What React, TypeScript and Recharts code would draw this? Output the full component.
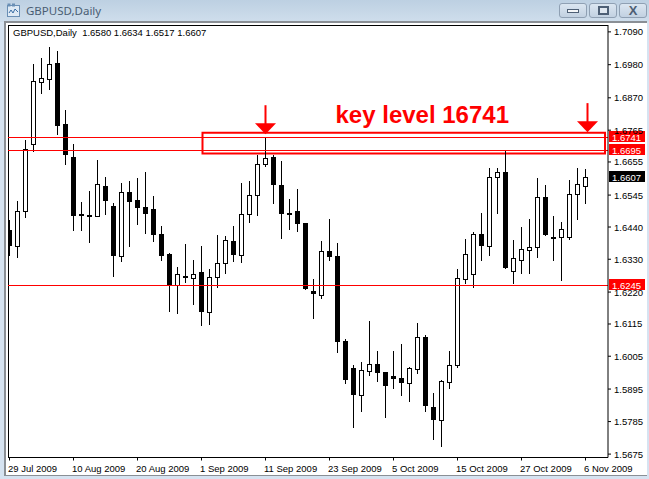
import React from "react";
import { ComposedChart, Bar, XAxis, YAxis, ReferenceLine, ReferenceArea, ReferenceDot } from "recharts";

const dates = [
  "29 Jul 2009","30 Jul 2009","31 Jul 2009","3 Aug 2009","4 Aug 2009","5 Aug 2009","6 Aug 2009","7 Aug 2009",
  "10 Aug 2009","11 Aug 2009","12 Aug 2009","13 Aug 2009","14 Aug 2009","17 Aug 2009","18 Aug 2009","19 Aug 2009",
  "20 Aug 2009","21 Aug 2009","24 Aug 2009","25 Aug 2009","26 Aug 2009","27 Aug 2009","28 Aug 2009","31 Aug 2009",
  "1 Sep 2009","2 Sep 2009","3 Sep 2009","4 Sep 2009","7 Sep 2009","8 Sep 2009","9 Sep 2009","10 Sep 2009",
  "11 Sep 2009","14 Sep 2009","15 Sep 2009","16 Sep 2009","17 Sep 2009","18 Sep 2009","21 Sep 2009","22 Sep 2009",
  "23 Sep 2009","24 Sep 2009","25 Sep 2009","28 Sep 2009","29 Sep 2009","30 Sep 2009","1 Oct 2009","2 Oct 2009",
  "5 Oct 2009","6 Oct 2009","7 Oct 2009","8 Oct 2009","9 Oct 2009","12 Oct 2009","13 Oct 2009","14 Oct 2009",
  "15 Oct 2009","16 Oct 2009","19 Oct 2009","20 Oct 2009","21 Oct 2009","22 Oct 2009","23 Oct 2009","26 Oct 2009",
  "27 Oct 2009","28 Oct 2009","29 Oct 2009","30 Oct 2009","2 Nov 2009","3 Nov 2009","4 Nov 2009","5 Nov 2009",
  "6 Nov 2009",
];

const opens = [
  1.6431,1.6378,1.6493,1.6718,1.6927,1.6937,1.6990,1.6786,
  1.6674,1.6483,1.6481,1.6478,1.6580,1.6511,1.6344,1.6560,
  1.6530,1.6507,1.6500,1.6416,1.6349,1.6247,1.6276,1.6269,
  1.6289,1.6157,1.6272,1.6319,1.6393,1.6346,1.6486,1.6547,
  1.6651,1.6677,1.6581,1.6487,1.6494,1.6454,1.6226,1.6214,
  1.6360,1.6343,1.6059,1.5968,1.5879,1.5959,1.5982,1.5955,
  1.5941,1.5935,1.5919,1.5966,1.6072,1.5838,1.5795,1.5922,
  1.5979,1.6267,1.6284,1.6419,1.6378,1.6609,1.6627,1.6292,
  1.6332,1.6366,1.6373,1.6543,1.6406,1.6408,1.6409,1.6550,
  1.6580,
];
const highs = [
  1.6466,1.6528,1.6732,1.6987,1.7006,1.7044,1.7030,1.6833,
  1.6719,1.6524,1.6561,1.6665,1.6608,1.6520,1.6588,1.6595,
  1.6605,1.6625,1.6544,1.6444,1.6353,1.6307,1.6384,1.6330,
  1.6377,1.6300,1.6414,1.6410,1.6444,1.6588,1.6595,1.6682,
  1.6742,1.6682,1.6662,1.6534,1.6568,1.6454,1.6266,1.6394,
  1.6467,1.6387,1.6065,1.5978,1.5988,1.6126,1.6025,1.5955,
  1.6025,1.6049,1.5971,1.6119,1.6078,1.5884,1.5928,1.6025,
  1.6300,1.6400,1.6423,1.6487,1.6638,1.6638,1.6695,1.6397,
  1.6441,1.6467,1.6605,1.6581,1.6477,1.6457,1.6598,1.6638,
  1.6634,
];
const lows = [
  1.6343,1.6337,1.6471,1.6693,1.6886,1.6900,1.6749,1.6649,
  1.6428,1.6428,1.6388,1.6475,1.6482,1.6274,1.6324,1.6375,
  1.6447,1.6418,1.6391,1.6328,1.6157,1.6150,1.6254,1.6179,
  1.6110,1.6113,1.6237,1.6284,1.6323,1.6320,1.6454,1.6477,
  1.6643,1.6518,1.6400,1.6431,1.6424,1.6230,1.6132,1.6199,
  1.6327,1.6019,1.5915,1.5768,1.5821,1.5941,1.5921,1.5801,
  1.5898,1.5874,1.5854,1.5948,1.5821,1.5727,1.5704,1.5898,
  1.5968,1.6249,1.6236,1.6327,1.6343,1.6484,1.6300,1.6250,
  1.6283,1.6283,1.6337,1.6411,1.6327,1.6260,1.6397,1.6464,
  1.6517,
];
const closes = [
  1.6378,1.6493,1.6704,1.6929,1.6939,1.6986,1.6779,1.6682,
  1.6478,1.6478,1.6475,1.6584,1.6529,1.6343,1.6560,1.6525,
  1.6505,1.6485,1.6415,1.6344,1.6246,1.6284,1.6274,1.6284,
  1.6157,1.6272,1.6319,1.6396,1.6348,1.6486,1.6547,1.6651,
  1.6671,1.6581,1.6485,1.6485,1.6452,1.6234,1.6217,1.6359,
  1.6340,1.6056,1.5929,1.5879,1.5961,1.5981,1.5952,1.5908,
  1.5931,1.5919,1.5967,1.6071,1.5841,1.5794,1.5924,1.5977,
  1.6269,1.6352,1.6416,1.6378,1.6607,1.6624,1.6304,1.6336,
  1.6366,1.6373,1.6543,1.6415,1.6405,1.6433,1.6553,1.6584,
  1.6607,
];

const xTickIndexes = [0, 8, 16, 24, 32, 40, 48, 56, 64, 72];
const yTickValues = [1.7095,1.6985,1.6874,1.67655,1.6659,1.6548,1.6441,1.6333,1.6223,1.6116,1.6008,1.5898,1.5789,1.5680];
const yTickLabels = ["1.7090","1.6980","1.6870","1.6765","1.6655","1.6545","1.6440","1.6330","1.6220","1.6115","1.6005","1.5895","1.5785","1.5675"];

const levelLines = [1.6741, 1.6697, 1.6245];
const levelLabels = ["1.6741", "1.6695", "1.6245"];
const lastPrice = 1.6607;
const boxIndexes = [24.125, 74.44];
const boxPrices = [1.6757, 1.6687];
const arrows = [{ index: 32, price: 1.6752 }, { index: 72.25, price: 1.6759 }];
const noteText = "key level 16741";
const notePoint = { index: 40.75, price: 1.6789 };
const titleText = "GBPUSD,Daily";
const legendText = "GBPUSD,Daily  1.6580 1.6634 1.6517 1.6607";

const rows = dates.map((date, i) => ({
  i, date, open: opens[i], high: highs[i], low: lows[i], close: closes[i],
  range: [lows[i], highs[i]],
}));

const FONT = "'Liberation Sans', Arial, sans-serif";
const RED = "#ff0000";

function Candle(props: any) {
  const { x, y, width, height, payload } = props;
  const cx = Math.floor(x + width / 2) + 0.5;
  const unit = height / (payload.high - payload.low);
  const topP = Math.max(payload.open, payload.close);
  const botP = Math.min(payload.open, payload.close);
  const top = Math.round(y + (payload.high - topP) * unit);
  const bot = Math.round(y + (payload.high - botP) * unit);
  const down = payload.close < payload.open;
  const h = bot - top;
  return (
    <g shapeRendering="crispEdges">
      <line x1={cx} x2={cx} y1={y} y2={y + height} stroke="#000" strokeWidth={1} />
      {h <= 2 ? (
        down || h === 0 ? (
          <rect x={cx - 2.5} y={top} width={5} height={2} fill="#000" />
        ) : (
          <rect x={cx - 2} y={top + 0.5} width={4} height={3} fill="#fff" stroke="#000" />
        )
      ) : down ? (
        <rect x={cx - 2.5} y={top} width={5} height={h} fill="#000" />
      ) : (
        <rect x={cx - 2} y={top + 0.5} width={4} height={h} fill="#fff" stroke="#000" />
      )}
    </g>
  );
}

function PriceTag(props: any) {
  const { viewBox, value, fill } = props;
  const ty = Math.floor(viewBox.y);
  return (
    <g>
      <rect x={609} y={ty - 6} width={36} height={11} fill={fill} shapeRendering="crispEdges" />
      <text x={612} y={ty + 3.5} fontFamily={FONT} fontSize={9.5} fill="#fff">{value}</text>
    </g>
  );
}

function Arrow(props: any) {
  const { cx, cy } = props;
  return (
    <g fill={RED}>
      <rect x={cx - 1} y={cy - 29} width={2} height={20} />
      <path d={`M${cx - 10.5} ${cy - 11} L${cx + 10.5} ${cy - 11} L${cx} ${cy} Z`} />
    </g>
  );
}

function Note(props: any) {
  const { cx, cy } = props;
  return (
    <text x={cx} y={cy} fontFamily={FONT} fontSize={24} fontWeight="bold" fill={RED}>{noteText}</text>
  );
}

function XTick(props: any) {
  const { x, y, payload } = props;
  return (
    <text x={x - 1.5} y={y + 9} fontFamily={FONT} fontSize={9.5} fill="#000">{dates[payload.value]}</text>
  );
}

function YTick(props: any) {
  const { x, y, payload } = props;
  const k = yTickValues.indexOf(payload.value);
  return (
    <text x={x + 1} y={y + 3.5} fontFamily={FONT} fontSize={9.5} fill="#000">{yTickLabels[k]}</text>
  );
}

function WinButton({ left, children }: { left: number; children: React.ReactNode }) {
  return (
    <div style={{
      position: "absolute", left, top: 3, width: 26, height: 13,
      border: "1px solid #8fa0b3", borderRadius: 3,
      background: "linear-gradient(#dbe6f1,#c2d1e1)", display: "flex", alignItems: "center", justifyContent: "center",
    }}>{children}</div>
  );
}

export default function App() {
  return (
    <div style={{ position: "absolute", left: 0, top: 0, width: 649, height: 479, overflow: "hidden", background: "#d6e3f1" }}>
      <div style={{ position: "absolute", left: 0, top: 0, width: 649, height: 22, background: "linear-gradient(#bdd0e2,#cfdeec)" }} />
      <svg style={{ position: "absolute", left: 7, top: 3 }} width={13} height={14}>
        <rect x={0.5} y={2.5} width={12} height={11} fill="#dfeaf5" stroke="#6a8fb5" />
        <rect x={0.5} y={0.5} width={3} height={3} fill="#6a8fb5" />
        <rect x={5} y={0.5} width={3} height={3} fill="#6a8fb5" />
        <path d="M2 10 L4 7 L6 10 L8 6 L11 9" stroke="#3b6ea5" fill="none" />
      </svg>
      <div style={{ position: "absolute", left: 26, top: 3, fontFamily: "'Noto Sans', sans-serif", fontSize: 11.5, color: "#4a5d73", lineHeight: "15px" }}>{titleText}</div>
      <WinButton left={559}><div style={{ width: 10, height: 2, background: "#f4f6f8", border: "1px solid #4d5f75" }} /></WinButton>
      <WinButton left={589}><div style={{ width: 7, height: 5, background: "#dfe7f0", border: "2px solid #4d5f75" }} /></WinButton>
      <WinButton left={619}><div style={{ fontFamily: FONT, fontWeight: "bold", fontSize: 13, lineHeight: "13px", color: "#4d5f75" }}>X</div></WinButton>

      <div style={{ position: "absolute", left: 4, top: 21, width: 643, height: 455, background: "#fff", borderTop: "2px solid #8a8f95", borderLeft: "2px solid #8a8f95", borderBottom: "1px solid #8a8f95", boxSizing: "border-box" }} />
      <div style={{ position: "absolute", left: 8, top: 25, width: 600, height: 433, borderTop: "1px solid #000", borderLeft: "1px solid #000", boxSizing: "border-box" }} />
      <div style={{ position: "absolute", left: 13, top: 27, fontFamily: FONT, fontSize: 9.5, lineHeight: "12px", color: "#000", whiteSpace: "pre" }}>{legendText}</div>

      <div style={{ position: "absolute", left: 0, top: 0 }}>
        <ComposedChart width={649} height={479} data={rows} margin={{ left: 8, top: 25, right: 0, bottom: 0 }}>
          <XAxis
            dataKey="i" type="number" domain={[-0.1875, 74.8125]} allowDataOverflow
            ticks={xTickIndexes} interval={0} height={21.5}
            axisLine={{ stroke: "#000" }} tickLine={{ stroke: "#000" }} tickSize={3} tick={<XTick />}
          />
          <YAxis
            orientation="right" type="number" domain={[1.56686, 1.7118]} allowDataOverflow
            ticks={yTickValues} interval={0} width={41}
            axisLine={{ stroke: "#000" }} tickLine={{ stroke: "#000" }} tickSize={3} tick={<YTick />}
          />
          {levelLines.map((v, k) => (
            <ReferenceLine key={v} y={v} stroke={RED} strokeWidth={1} shapeRendering="crispEdges"
              label={<PriceTag value={levelLabels[k]} fill={RED} />} />
          ))}
          <ReferenceLine y={lastPrice} stroke="none" label={<PriceTag value={lastPrice.toFixed(4)} fill="#000" />} />
          <Bar dataKey="range" barSize={5} isAnimationActive={false} shape={<Candle />} />
          <ReferenceArea x1={boxIndexes[0]} x2={boxIndexes[1]} y1={boxPrices[0]} y2={boxPrices[1]}
            fill="none" stroke={RED} strokeWidth={2} fillOpacity={0} ifOverflow="visible" />
          {arrows.map((a) => (
            <ReferenceDot key={a.index} x={a.index} y={a.price} r={1} ifOverflow="visible" shape={<Arrow />} />
          ))}
          <ReferenceDot x={notePoint.index} y={notePoint.price} r={1} ifOverflow="visible" shape={<Note />} />
        </ComposedChart>
      </div>
    </div>
  );
}
